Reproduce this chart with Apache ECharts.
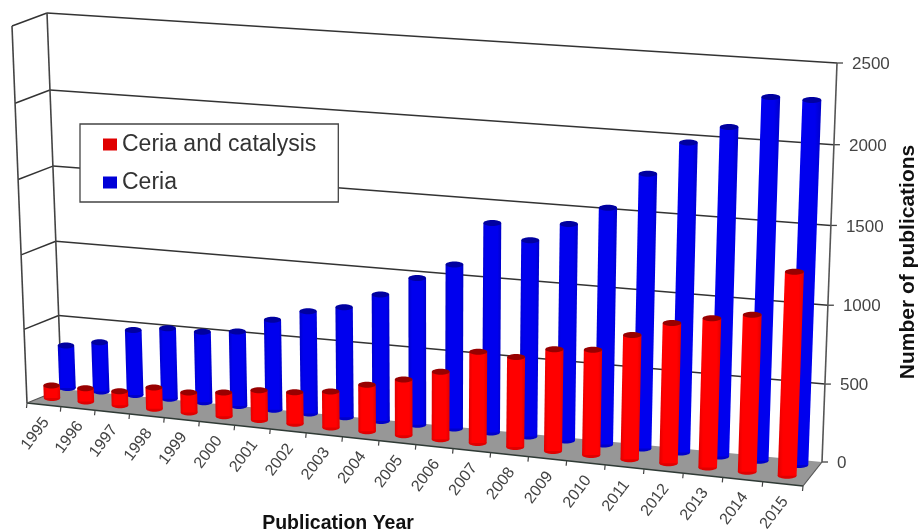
<!DOCTYPE html>
<html>
<head>
<meta charset="utf-8">
<style>html,body{margin:0;padding:0;background:#fff}#main{width:921px;height:531px}</style>
<script src="https://cdn.jsdelivr.net/npm/echarts@6/dist/echarts.min.js"></script>
</head>
<body>
<div id="main"></div>
<script>
const years = ['1995','1996','1997','1998','1999','2000','2001','2002','2003','2004','2005','2006','2007','2008','2009','2010','2011','2012','2013','2014','2015'];
const ceria = [290,335,440,475,475,500,600,680,730,835,965,1075,1365,1275,1400,1525,1760,1975,2090,2295,2295];
const ceriaCatalysis = [85,90,95,145,135,160,200,210,240,310,370,445,600,590,665,685,805,905,960,1005,1300];
const yTicks = [0,500,1000,1500,2000,2500];

// the flat hidden grid gives the scales, this tilts it into the excel 3d box
const STRENGTH = 1.095, HEIGHT_STRENGTH = 1.03;
const FL = [27,403], FR = [803,486], BL = [61.5,389], BR = [822,462];
const UP_L = [-14.5,-376], UP_R = [15,-399];
const FRONT_UP = [-15,-377];
const ROW_RED = [[35.2,396.2],[807.2,478]];
const ROW_BLUE = [[50.8,386.2],[818.8,467]];

function mix(a, b, t){ return [a[0]+(b[0]-a[0])*t, a[1]+(b[1]-a[1])*t]; }
function warp(u){ return u/(u+STRENGTH*(1-u)); }
function warpH(h){ return h/(h+HEIGHT_STRENGTH*(1-h)); }
function flat(params, pt){
    let cs = params.coordSys;
    return [warp((pt[0]-cs.x)/cs.width), warpH((cs.y+cs.height-pt[1])/cs.height)];
}
function lift(base, s, h){
    let up = mix(UP_L, UP_R, s);
    return [base[0]+up[0]*h, base[1]+up[1]*h];
}
// category boundary i (0..21) as s
function edgeS(i){ return warp(i/years.length); }

function renderFrame(params, api){
    let kids = [];
    let line = (a, b, color, w) => kids.push({type:'line', shape:{x1:a[0],y1:a[1],x2:b[0],y2:b[1]}, style:{stroke:color,lineWidth:w}});
    kids.push({type:'polygon', shape:{points:[FL,BL,BR,FR]}, style:{fill:'#979797'}});
    for(let t of yTicks){
        let h = flat(params, api.coord([0,t]))[1];
        let back0 = lift(BL,0,h), back1 = lift(BR,1,h);
        let front = [FL[0]+FRONT_UP[0]*h, FL[1]+FRONT_UP[1]*h];
        if(t > 0){
            line(back0, back1, '#333', 1.5);
            line(front, back0, '#333', 1.5);
        }
        line(back1, [back1[0]+6,back1[1]], '#444', 1.3);
        kids.push({type:'text', style:{text:String(t), x:back1[0]+15, y:back1[1]+1.5, fill:'#444', font:'17px "Liberation Sans"', textAlign:'left', textVerticalAlign:'middle'}});
    }
    // wall verticals
    line(BL, lift(BL,0,1), '#444', 1.6);
    line(FL, [FL[0]+FRONT_UP[0],FL[1]+FRONT_UP[1]], '#444', 1.6);
    line(BR, lift(BR,1,1), '#555', 1.6);
    // floor edges
    line(FL, FR, '#2f3a35', 1.6);
    line(FL, BL, '#555', 1.2);
    line(FR, BR, '#555', 1.2);
    // x ticks and labels
    for(let i = 0; i <= years.length; i++){
        let p = mix(FL, FR, edgeS(i));
        line(p, [p[0]-0.5,p[1]+5], '#444', 1.2);
    }
    years.forEach((y, i) => {
        let s = flat(params, api.coord([i,0]))[0];
        let p = mix(FL, FR, s);
        kids.push({type:'text', rotation:Math.PI*53/180, x:p[0]-8.5, y:p[1]+29,
            style:{text:y, x:0, y:0, fill:'#444', font:'16px "Liberation Sans"', textAlign:'center', textVerticalAlign:'middle'}});
    });
    return {type:'group', children:kids};
}

function cylinder(params, api, row, body, edge, cap){
    let i = api.value(0), v = api.value(1);
    let f = flat(params, api.coord([i,v]));
    let s = f[0], h = f[1];
    let base = mix(row[0], row[1], s);
    let top = lift(base, s, h);
    let hw = 8.2 + 1.3*s, ry = 3;
    let grad = {type:'linear', x:0, y:0, x2:1, y2:0, colorStops:[{offset:0,color:edge},{offset:0.2,color:body},{offset:0.8,color:body},{offset:1,color:edge}]};
    return {type:'group', children:[
        {type:'ellipse', shape:{cx:base[0],cy:base[1],rx:hw,ry:ry}, style:{fill:edge}},
        {type:'polygon', shape:{points:[[base[0]-hw,base[1]],[base[0]+hw,base[1]],[top[0]+hw,top[1]],[top[0]-hw,top[1]]]}, style:{fill:grad}},
        {type:'ellipse', shape:{cx:top[0],cy:top[1],rx:hw,ry:ry}, style:{fill:cap}}
    ]};
}

let myChart = echarts.init(document.getElementById('main'));
let option = {
    animation: false,
    grid: {left:0, right:0, top:0, bottom:0},
    xAxis: {type:'category', data:years, show:false},
    yAxis: {type:'value', min:0, max:2500, interval:500, show:false},
    legend: {
        data:['Ceria and catalysis','Ceria'],
        orient:'vertical', left:80, top:124,
        padding:[9,22,8,23], itemGap:15, itemWidth:14, itemHeight:12, icon:'rect',
        backgroundColor:'#fff', borderColor:'#444', borderWidth:1.3, borderRadius:0,
        selectedMode:false,
        textStyle:{fontFamily:'Liberation Sans', fontSize:23, color:'#333'}
    },
    graphic: [
        {type:'text', x:338, y:524, style:{text:'Publication Year', fill:'#111', font:'bold 19.5px "Liberation Sans"', textAlign:'center', textVerticalAlign:'middle'}},
        {type:'text', x:908, y:262, rotation:Math.PI/2, style:{text:'Number of publications', fill:'#111', font:'bold 21px "Liberation Sans"', textAlign:'center', textVerticalAlign:'middle'}}
    ],
    series: [
        {name:'frame', type:'custom', silent:true, clip:false, data:[[0,0]], renderItem:renderFrame, encode:{x:0,y:1}},
        {name:'Ceria', type:'custom', silent:true, clip:false, itemStyle:{color:'#0000d8'},
            data:ceria.map((v,i)=>[i,v]), encode:{x:0,y:1},
            renderItem:(p,api)=>cylinder(p, api, ROW_BLUE, '#0000ee', '#0000c8', '#0000a0')},
        {name:'Ceria and catalysis', type:'custom', silent:true, clip:false, itemStyle:{color:'#e00000'},
            data:ceriaCatalysis.map((v,i)=>[i,v]), encode:{x:0,y:1},
            renderItem:(p,api)=>cylinder(p, api, ROW_RED, '#ff0000', '#e00000', '#980000')}
    ]
};
myChart.setOption(option);
</script>
</body>
</html>
